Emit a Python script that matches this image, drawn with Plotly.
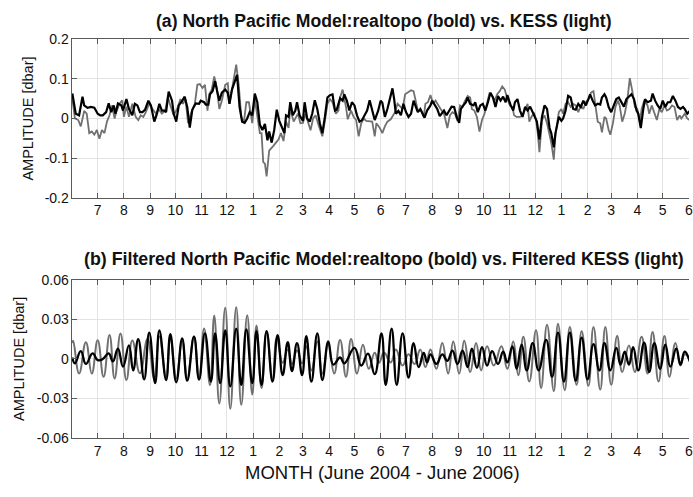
import pandas as pd
import plotly.graph_objects as go

# ---------------------------------------------------------------------------
# Time base: days counted from 1 June 2004
# ---------------------------------------------------------------------------
START = pd.Timestamp("2004-06-01")

month_labels = ["7", "8", "9", "10", "11", "12", "1", "2", "3", "4", "5", "6",
                "7", "8", "9", "10", "11", "12", "1", "2", "3", "4", "5", "6"]
amp_ticks_a = [-0.2, -0.1, 0, 0.1, 0.2]
amp_labels_a = ["-0.2", "-0.1", "0", "0.1", "0.2"]
amp_ticks_b = [-0.06, -0.03, 0, 0.03, 0.06]
amp_labels_b = ["-0.06", "-0.03", "0", "0.03", "0.06"]

# ---------------------------------------------------------------------------
# (a) bottom pressure amplitude [dbar]
# ---------------------------------------------------------------------------
model_days = [0, 1, 4, 8, 12, 14, 18, 22, 26, 30, 33, 36, 40, 43, 46, 49, 51, 54, 58, 60,
              64, 67, 71, 74, 77, 80, 83, 86, 90, 93, 97, 100, 103, 106, 109, 111, 114, 118,
              120, 123, 126, 129, 133, 136, 139, 142, 146, 150, 152, 156, 158, 161, 163,
              166, 169, 171, 174, 177, 181, 184, 186, 189, 192, 195, 198, 201, 204, 207,
              210, 213, 216, 219, 222, 225, 228, 231, 233, 236, 239, 242, 245, 248, 251,
              253, 256, 258, 261, 264, 266, 269, 273, 275, 278, 281, 284, 287, 290, 293,
              296, 299, 302, 305, 308, 311, 313, 317, 320, 322, 325, 328, 331, 334, 337,
              340, 343, 346, 349, 352, 355, 358, 362, 365, 367, 370, 373, 377, 379, 381,
              383, 386, 389, 392, 395, 398, 401, 404, 407, 409, 412, 415, 417, 420, 424,
              426, 429, 432, 435, 438, 440, 443, 446, 449, 452, 455, 458, 460, 463, 466,
              468, 471, 475, 477, 480, 483, 486, 489, 492, 495, 498, 501, 504, 507, 510,
              513, 515, 519, 522, 524, 527, 530, 533, 536, 539, 542, 545, 548, 550, 553,
              556, 559, 562, 565, 567, 570, 572, 576, 579, 581, 584, 587, 590, 593, 596,
              599, 602, 605, 608, 611, 613, 616, 619, 622, 625, 627, 630, 632, 635, 638,
              641, 644, 647, 650, 653, 656, 659, 662, 665, 668, 670, 673, 676, 678, 681,
              685, 687, 690, 693, 696, 699, 702, 705, 708, 711, 714, 717, 720, 723, 725,
              728, 731]
model_amp = [0.063, 0.049, 0.012, 0.008, 0.055, 0.033, 0.027, 0.029, 0.027, 0.012, 0.008,
             0.008, 0.016, 0.038, 0.016, 0.033, 0.012, 0.038, 0.033, 0.020, 0.049, 0.024,
             0.008, 0.037, 0.033, 0.016, 0.016, 0.022, 0.045, 0.033, -0.008, 0.011, 0.037,
             0.020, 0.020, 0.016, 0.068, 0.045, 0.012, -0.008, 0.033, 0.041, 0.055, 0.029,
             -0.023, 0.022, 0.038, 0.037, 0.045, 0.041, 0.035, 0.035, 0.061, 0.069, 0.094,
             0.073, 0.045, 0.065, 0.073, 0.065, 0.037, 0.073, 0.094, 0.110, 0.029, -0.008,
             -0.011, 0.000, 0.016, 0.008, 0.063, 0.041, -0.016, -0.029, -0.014, -0.055,
             -0.033, -0.061, -0.029, 0.022, -0.006, -0.024, -0.037, 0.008, 0.004, 0.041,
             0.008, 0.020, 0.041, 0.008, -0.006, 0.041, 0.000, -0.008, 0.012, 0.046, 0.024,
             -0.012, -0.037, 0.004, 0.053, 0.059, 0.061, 0.020, 0.022, 0.051, 0.045, 0.061,
             0.045, 0.020, 0.041, 0.033, 0.008, -0.008, -0.004, 0.008, 0.020, 0.046, 0.024,
             -0.004, 0.019, 0.045, 0.040, 0.004, 0.024, 0.057, 0.076, 0.049, 0.012, 0.019,
             0.008, 0.037, 0.016, 0.004, 0.012, 0.045, 0.027, 0.016, 0.024, 0.012, 0.002,
             0.020, 0.033, 0.045, 0.033, 0.024, 0.006, 0.016, 0.020, 0.008, 0.019, 0.030,
             0.029, 0.004, -0.011, 0.024, 0.033, 0.041, 0.053, 0.037, 0.033, 0.041, 0.016,
             0.033, 0.037, 0.020, 0.041, 0.065, 0.053, 0.029, 0.057, 0.045, 0.055, 0.041,
             0.059, 0.033, 0.020, 0.041, 0.049, 0.020, 0.004, 0.029, 0.020, 0.030, 0.016,
             0.000, -0.008, -0.053, 0.004, 0.033, 0.024, -0.024, -0.037, -0.073, -0.037,
             0.004, -0.006, 0.000, 0.020, 0.057, 0.053, 0.024, 0.022, 0.037, 0.029, 0.045,
             0.033, 0.049, 0.061, 0.045, 0.033, 0.037, 0.035, 0.053, 0.061, 0.053, 0.029,
             0.016, 0.033, 0.049, 0.053, 0.041, 0.030, 0.049, 0.055, 0.061, 0.049, 0.020,
             0.012, -0.024, 0.024, 0.049, 0.041, 0.045, 0.063, 0.045, 0.033, 0.024, 0.045,
             0.029, 0.041, 0.041, 0.057, 0.045, 0.029, 0.024, 0.029, 0.024, 0.012, 0.019]

kess_days = [0, 3, 7, 10, 14, 17, 20, 23, 26, 29, 32, 35, 38, 41, 44, 47, 50, 52, 56, 59,
             61, 64, 67, 71, 75, 78, 81, 84, 87, 91, 95, 99, 102, 106, 110, 113, 116, 120,
             124, 128, 131, 134, 137, 141, 145, 148, 151, 154, 157, 160, 162, 165, 168,
             171, 174, 177, 181, 184, 186, 189, 192, 194, 197, 200, 203, 206, 209, 213,
             216, 219, 222, 224, 226, 228, 230, 233, 235, 238, 241, 244, 247, 250, 253,
             256, 258, 262, 265, 267, 270, 273, 276, 279, 282, 285, 288, 292, 296, 299,
             302, 305, 308, 312, 315, 317, 320, 324, 326, 330, 333, 336, 339, 342, 345,
             348, 352, 355, 358, 360, 364, 367, 370, 373, 377, 379, 382, 385, 387, 391,
             394, 397, 401, 404, 407, 409, 413, 416, 418, 421, 424, 427, 430, 433, 436,
             440, 444, 447, 450, 453, 456, 459, 462, 464, 468, 471, 473, 476, 479, 482,
             485, 488, 491, 494, 497, 500, 503, 506, 509, 512, 515, 518, 521, 523, 526,
             530, 533, 536, 539, 541, 544, 547, 549, 551, 553, 556, 559, 562, 565, 567,
             570, 572, 576, 579, 581, 584, 587, 590, 593, 596, 599, 602, 605, 608, 611,
             614, 617, 619, 622, 625, 627, 630, 632, 635, 637, 640, 643, 646, 648, 651,
             654, 657, 660, 663, 666, 669, 672, 674, 677, 681, 683, 686, 689, 692, 695,
             698, 701, 704, 707, 710, 713, 716, 719, 721, 725, 728, 731]
kess_amp = [0.049, 0.000, -0.004, -0.020, 0.019, 0.012, -0.037, -0.033, -0.041, -0.029,
            -0.051, -0.029, -0.037, -0.008, 0.008, 0.033, 0.000, 0.016, 0.038, 0.046,
            0.004, 0.030, 0.004, 0.037, 0.004, -0.004, 0.008, 0.004, 0.016, 0.037, 0.024,
            0.012, 0.024, 0.012, 0.020, 0.055, 0.033, 0.008, 0.024, 0.049, 0.037, 0.049,
            -0.012, 0.016, 0.037, 0.085, 0.087, 0.077, 0.085, 0.020, 0.061, 0.073, 0.106,
            0.077, 0.024, 0.045, 0.085, 0.089, 0.037, 0.077, 0.110, 0.136, 0.085, 0.004,
            -0.011, 0.041, 0.041, -0.012, 0.049, 0.004, -0.037, -0.037, -0.110, -0.114,
            -0.146, -0.081, -0.077, -0.069, -0.061, -0.053, -0.037, -0.057, -0.008,
            -0.024, 0.024, -0.008, 0.004, 0.012, -0.012, -0.011, 0.012, -0.008, -0.030,
            0.000, 0.008, -0.020, -0.045, -0.006, 0.037, 0.049, 0.041, 0.012, 0.020, 0.053,
            0.073, 0.029, -0.002, 0.020, 0.004, -0.004, -0.045, -0.012, 0.000, -0.006,
            -0.008, -0.008, -0.045, -0.012, -0.024, -0.037, -0.020, -0.008, -0.002, 0.004,
            0.016, 0.037, 0.033, 0.024, 0.061, 0.065, 0.071, 0.069, 0.037, 0.020, 0.020,
            0.004, 0.037, 0.041, 0.059, 0.037, 0.045, 0.033, 0.024, 0.012, -0.024, 0.008,
            0.016, 0.012, -0.006, 0.033, 0.029, 0.041, 0.057, 0.053, 0.024, 0.020, 0.004,
            -0.033, -0.004, 0.012, 0.037, 0.065, 0.057, 0.045, 0.061, 0.069, 0.081, 0.073,
            0.049, 0.033, 0.029, 0.008, 0.004, 0.004, 0.008, 0.024, 0.037, -0.008, 0.006,
            0.012, -0.004, -0.037, -0.085, -0.004, 0.008, -0.012, -0.037, -0.061, -0.104,
            -0.041, 0.016, 0.024, 0.012, 0.037, 0.041, 0.029, 0.037, 0.033, 0.016, 0.033,
            0.024, 0.041, 0.049, 0.065, 0.069, 0.037, -0.008, -0.012, -0.035, 0.004, 0.000,
            -0.029, -0.041, -0.012, 0.029, 0.045, 0.033, -0.008, 0.012, 0.045, 0.102, 0.069,
            0.029, 0.024, -0.008, 0.024, 0.045, 0.033, 0.012, 0.033, 0.012, -0.004, 0.024,
            0.016, 0.033, 0.020, 0.024, 0.033, 0.029, -0.004, 0.008, 0.000, 0.012, 0.000,
            -0.004]

# ---------------------------------------------------------------------------
# (b) filtered series: successive crests and troughs [dbar]
# ---------------------------------------------------------------------------
model_f_days = [0, 3, 10, 16, 24, 30, 36, 43, 48, 54, 60, 67, 72, 78, 85, 91, 98, 103, 111,
                116, 123, 130, 136, 144, 150, 157, 164, 169, 175, 181, 187, 194, 200, 206,
                213, 218, 224, 230, 237, 243, 249, 255, 260, 266, 272, 277, 283, 290, 296,
                303, 309, 317, 322, 334, 342, 350, 358, 366, 371, 378, 384, 391, 398, 404,
                410, 416, 420, 424, 431, 438, 444, 450, 456, 462, 468, 473, 479, 485, 491,
                497, 504, 510, 515, 521, 526, 532, 538, 545, 552, 561, 568, 575, 582, 589,
                596, 603, 610, 617, 624, 630, 637, 644, 649, 654, 659, 664, 670, 677, 683,
                689, 696, 702, 708, 715, 720, 725, 731]
model_f_amp = [0.001, -0.0034, 0.0059, -0.0039, 0.0041, -0.001, -0.0002, 0.0041, -0.002,
               0.0078, -0.0059, 0.0102, -0.0088, 0.0149, -0.0156, 0.020, -0.0185, 0.0217,
               -0.0161, 0.0188, -0.0178, 0.0156, -0.0166, 0.0168, -0.0156, 0.0193, -0.0173,
               0.0193, -0.0185, 0.0217, -0.021, 0.0229, -0.0198, 0.0224, -0.0185, 0.021,
               -0.0198, 0.021, -0.0173, 0.018, -0.0124, 0.0127, -0.0093, 0.012, -0.0124,
               0.0173, -0.0173, 0.0193, -0.0161, 0.0132, -0.0044, 0.001, -0.0034, 0.0083,
               -0.0051, 0.0039, -0.0117, 0.0193, -0.0198, 0.0229, -0.0198, 0.0193, -0.0142,
               0.012, -0.0063, 0.0046, -0.0027, 0.0034, -0.0039, 0.0034, -0.0015, 0.0063,
               -0.0039, 0.0063, -0.0063, 0.0078, -0.0068, 0.0088, -0.0051, 0.0059, -0.0039,
               0.0054, -0.0027, 0.0095, -0.0076, 0.0107, -0.0088, 0.012, -0.0088, 0.0144,
               -0.0137, 0.020, -0.0173, 0.020, -0.0166, 0.0161, -0.0156, 0.0112, -0.0088,
               0.012, -0.0088, 0.0083, -0.0044, 0.0054, -0.0044, 0.0088, -0.0088, 0.0124,
               -0.010, 0.012, -0.0076, 0.0107, -0.0059, 0.0078, -0.0044, 0.0054, -0.002]

kess_f_days = [0, 1, 8, 16, 23, 30, 37, 44, 50, 57, 64, 71, 80, 89, 97, 103, 111, 116, 123,
               130, 136, 144, 150, 156, 163, 168, 174, 181, 187, 194, 200, 207, 213, 218,
               224, 230, 237, 242, 249, 255, 260, 266, 272, 277, 283, 290, 296, 303, 310,
               317, 324, 330, 337, 344, 351, 358, 363, 369, 377, 383, 391, 398, 405, 412,
               418, 424, 431, 438, 445, 451, 458, 464, 471, 478, 484, 491, 499, 508, 515,
               522, 528, 534, 541, 549, 555, 562, 570, 575, 583, 589, 597, 603, 611, 617,
               625, 631, 638, 645, 651, 659, 666, 674, 681, 687, 694, 701, 707, 714, 720,
               725, 731]
kess_f_amp = [0.012, 0.0137, -0.0112, 0.0127, -0.0112, 0.0142, -0.0137, 0.0181, -0.0149,
              0.0193, -0.0161, 0.014, -0.011, 0.015, -0.015, 0.017, -0.014, 0.016, -0.015,
              0.014, -0.015, 0.017, -0.016, 0.023, -0.020, 0.033, -0.034, 0.0388, -0.038,
              0.0393, -0.035, 0.0332, -0.0271, 0.0254, -0.0222, 0.0205, -0.0161, 0.0156,
              -0.003, 0.0071, -0.0039, 0.0063, -0.0034, 0.0095, -0.0088, 0.0132, -0.0112,
              0.0107, -0.0112, 0.0144, -0.0137, 0.0151, -0.0112, 0.0107, -0.0076, 0.0046,
              -0.003, 0.0046, -0.0027, 0.007, -0.0051, 0.0034, -0.0039, 0.007, -0.0063,
              0.007, -0.0076, 0.012, -0.0112, 0.0132, -0.0112, 0.0137, -0.010, 0.012,
              -0.0088, 0.0095, -0.0051, 0.0095, -0.0076, 0.0132, -0.0124, 0.0168, -0.0173,
              0.0217, -0.0222, 0.0259, -0.0246, 0.0266, -0.0239, 0.0242, -0.0198, 0.021,
              -0.0205, 0.0242, -0.0234, 0.0242, -0.0198, 0.0173, -0.010, 0.0102, -0.010,
              0.0168, -0.0112, 0.0205, -0.0173, 0.0173, -0.0137, 0.012, -0.0051, 0.0034,
              -0.001]


def as_dates(days):
    return [START + pd.Timedelta(days=d) for d in days]


FONT = "Liberation Sans, Arial, Helvetica, sans-serif"
TEXT = "#111111"
AXIS = "#5a5a5a"
GRID = "#e3e3e3"
LIGHT = "#707070"

fig = go.Figure()

fig.add_trace(go.Scatter(x=as_dates(kess_days), y=kess_amp, mode="lines",
                         line=dict(color=LIGHT, width=1.8), xaxis="x", yaxis="y"))
fig.add_trace(go.Scatter(x=as_dates(model_days), y=model_amp, mode="lines",
                         line=dict(color="#000000", width=2.2), xaxis="x", yaxis="y"))
fig.add_trace(go.Scatter(x=as_dates(kess_f_days), y=kess_f_amp, mode="lines",
                         line=dict(color=LIGHT, width=2.0, shape="spline", smoothing=1.3),
                         xaxis="x2", yaxis="y2"))
fig.add_trace(go.Scatter(x=as_dates(model_f_days), y=model_f_amp, mode="lines",
                         line=dict(color="#000000", width=2.3, shape="spline", smoothing=1.3),
                         xaxis="x2", yaxis="y2"))

W, H = 693, 497
left_px = 72
x_dom = [left_px / W, 1.0]
x_range = [START - pd.Timedelta(hours=22), START + pd.Timedelta(days=730.1)]
month_ticks = list(pd.date_range("2004-07-01", "2006-06-01", freq="MS"))

common_x = dict(type="date", range=x_range, domain=x_dom, tickvals=month_ticks,
                ticktext=month_labels, ticks="inside", ticklen=5, tickcolor=AXIS,
                showline=True, linecolor=AXIS, linewidth=1, mirror="ticks",
                showgrid=True, gridcolor=GRID, gridwidth=1, zeroline=False,
                ticklabeloverflow="allow",
                tickfont=dict(family=FONT, size=14, color=TEXT))
common_y = dict(ticks="inside", ticklen=5, tickcolor=AXIS, showline=True,
                linecolor=AXIS, linewidth=1, showgrid=True, gridcolor=GRID,
                gridwidth=1, zeroline=False, ticklabelstandoff=-1,
                tickfont=dict(family=FONT, size=14, color=TEXT))

ya_dom = [1 - 196 / H, 1 - 32.3 / H]
yb_dom = [1 - 444 / H, 1 - 281 / H]

fig.update_layout(
    width=W, height=H,
    margin=dict(l=0, r=0, t=0, b=0),
    paper_bgcolor="white", plot_bgcolor="white",
    showlegend=False,
    xaxis=dict(common_x, anchor="y"),
    yaxis=dict(common_y, domain=ya_dom, range=[-0.2, 0.2], tickvals=amp_ticks_a,
               ticktext=amp_labels_a, anchor="x"),
    xaxis2=dict(common_x, anchor="y2"),
    yaxis2=dict(common_y, domain=yb_dom, range=[-0.06, 0.06], tickvals=amp_ticks_b,
                ticktext=amp_labels_b, anchor="x2"),
)

title_x = 386 / W
annotations = [
    dict(text="<b>(a) North Pacific Model:realtopo (bold) vs. KESS (light)</b>",
         x=title_x, y=1 - 13 / H, font=dict(family=FONT, size=17.6, color=TEXT)),
    dict(text="<b>(b) Filtered North Pacific Model:realtopo (bold) vs. Filtered KESS (light)</b>",
         x=title_x, y=1 - 259.3 / H, font=dict(family=FONT, size=17.8, color=TEXT)),
    dict(text="MONTH (June 2004 - June 2006)", x=385 / W, y=1 - 480 / H,
         font=dict(family=FONT, size=18.5, color=TEXT)),
    dict(text="AMPLITUDE [dbar]", x=28.4 / W, y=1 - 114 / H, textangle=-90,
         font=dict(family=FONT, size=14.5, color=TEXT)),
    dict(text="AMPLITUDE [dbar]", x=19 / W, y=1 - 362.7 / H, textangle=-90,
         font=dict(family=FONT, size=14.5, color=TEXT)),
]
for a in annotations:
    a.update(xref="paper", yref="paper", showarrow=False, xanchor="center",
             yanchor="middle")
fig.update_layout(annotations=annotations)

fig.write_html("out.html")
